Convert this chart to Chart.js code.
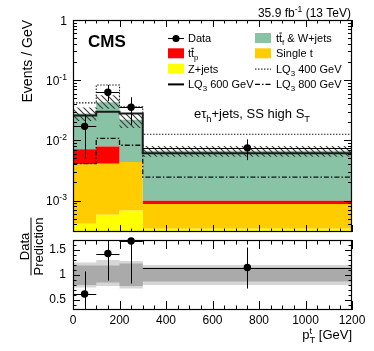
<!DOCTYPE html>
<html>
<head>
<meta charset="utf-8">
<script src="https://cdn.jsdelivr.net/npm/chart.js@4.4.1/dist/chart.umd.min.js"></script>
<style>
  html, body { margin: 0; padding: 0; background: #fff; }
  #wrap { position: relative; width: 374px; height: 351px; }
  #wrap canvas { position: absolute; left: 0; top: 0; }
</style>
</head>
<body>
<div id="wrap">
  <canvas id="mainChart" width="374" height="351"></canvas>
  <canvas id="ratioChart" width="374" height="351"></canvas>
</div>
<script>
var FONT = '"Liberation Sans", Arial, Helvetica, sans-serif';

// binning in p_T^t (GeV)
var binEdges = [0, 100, 200, 300, 1200];
var binCenters = [50, 150, 250, 750];

// backgrounds, events / GeV, stacked bottom to top
var zJets = [0.00041, 0.00058, 0.00068, 0.00034];
var singleTop = [0.0036, 0.0035, 0.0037, 0.00054];
var ttPrompt = [0.0031, 0.0038, 0.0, 0.00011];
var ttFakeWJets = [0.0209, 0.0352, 0.0176, 0.0057];

// LQ3 signals (not stacked)
var lq400 = [0.042, 0.083, 0.036, 0.0126];
var lq600 = [0.026, 0.030, 0.028, 0.0061];
var lq800 = [0.0041, 0.0108, 0.0083, 0.00245];

// data
var dataY = [0.0171, 0.063, 0.0355, 0.0075];
var dataHi = [0.027, 0.083, 0.052, 0.0104];
var dataLo = [0.0050, 0.045, 0.018, 0.0047];

// ratio panel
var ratioY = [0.62, 1.43, 1.68, 1.15];
var ratioHi = [1.07, 1.95, 2.3, 1.55];
var ratioLo = [0.2, 0.89, 0.83, 0.73];
var uncOuterHi = [1.25, 1.30, 1.28, 1.20];
var uncOuterLo = [0.75, 0.78, 0.73, 0.80];
var uncInnerHi = [1.19, 1.19, 1.23, 1.15];
var uncInnerLo = [0.80, 0.85, 0.78, 0.87];

// ticks
var xTickLabels = [0, 200, 400, 600, 800, 1000, 1200];
var yDecades = [0.001, 0.01, 0.1, 1];
var ratioTickLabels = [0.5, 1, 1.5];

var colGreen = '#88c3a6';
var colOrange = '#ffcc00';
var colRed = '#ff0000';
var colYellow = '#ffff00';

// histogram -> stepped points
function steps(vals) {
    var pts = vals.map(function (v, i) { return { x: binEdges[i], y: v }; });
    pts.push({ x: binEdges[binEdges.length - 1], y: vals[vals.length - 1] });
    return pts;
}

function cumulate(layers) {
    var run = [0, 0, 0, 0];
    return layers.map(function (l) {
        run = run.map(function (v, i) { return v + l[i]; });
        return run.slice();
    });
}

var stack = cumulate([zJets, singleTop, ttPrompt, ttFakeWJets]);
var total = stack[3];
var totHi = total.map(function (v, i) { return v * uncOuterHi[i]; });
var totLo = total.map(function (v, i) { return v * uncOuterLo[i]; });

// hatch pattern for the uncertainty band
function hatch() {
    var s = 6;
    var c = document.createElement('canvas');
    c.width = s; c.height = s;
    var g = c.getContext('2d');
    g.strokeStyle = '#3a3a3a';
    g.lineWidth = 1.1;
    g.beginPath();
    g.moveTo(0, 0); g.lineTo(s, s);
    g.moveTo(-1, s - 1); g.lineTo(1, s + 1);
    g.moveTo(s - 1, -1); g.lineTo(s + 1, 1);
    g.stroke();
    return g.createPattern(c, 'repeat');
}

// text with sub/superscripts
function drawRich(ctx, parts, x, y, size, align, weight) {
    var w0 = weight ? weight + ' ' : '';
    var items = parts.map(function (p) {
        var s = (p.sub || p.sup) ? size * 0.72 : size;
        ctx.font = w0 + s + 'px ' + FONT;
        var w = ctx.measureText(p.t).width;
        if (p.up) w = Math.max(w, ctx.measureText(p.up).width);
        return { p: p, s: s, w: w };
    });
    var tot = items.reduce(function (a, b) { return a + b.w; }, 0);
    var cx = align === 'right' ? x - tot : align === 'center' ? x - tot / 2 : x;
    ctx.textAlign = 'left';
    ctx.textBaseline = 'alphabetic';
    items.forEach(function (it) {
        var p = it.p;
        ctx.font = w0 + it.s + 'px ' + FONT;
        var dy = p.sub ? size * 0.28 : p.sup ? -size * 0.42 : 0;
        ctx.fillText(p.t, cx, y + dy);
        if (p.up) ctx.fillText(p.up, cx, y - size * 0.42);
        if (p.bar) ctx.fillRect(cx + 0.3, y - size * 0.86, it.w - 0.6, 1);
        cx += it.w;
    });
    return tot;
}

// frame with inward ticks on four sides
function makeFrame(cfg) {
    return {
        id: 'frame',
        afterDraw: function (chart) {
            var ctx = chart.ctx, a = chart.chartArea;
            var xs = chart.scales.x, ys = chart.scales.y;
            ctx.save();
            ctx.strokeStyle = '#000';
            ctx.lineWidth = 1;
            ctx.beginPath();
            for (var v = 0; v <= 1200; v += 50) {
                var px = Math.round(xs.getPixelForValue(v)) + 0.5;
                var len = v % 200 === 0 ? cfg.xMajor : cfg.xMinor;
                ctx.moveTo(px, a.bottom); ctx.lineTo(px, a.bottom - len);
                ctx.moveTo(px, a.top); ctx.lineTo(px, a.top + len);
            }
            cfg.yTicks.forEach(function (t) {
                var py = Math.round(ys.getPixelForValue(t.v)) + 0.5;
                if (py < a.top || py > a.bottom) return;
                ctx.moveTo(a.left, py); ctx.lineTo(a.left + t.len, py);
                ctx.moveTo(a.right, py); ctx.lineTo(a.right - t.len, py);
            });
            ctx.stroke();
            ctx.lineWidth = 1.2;
            ctx.strokeRect(a.left + 0.5, a.top + 0.5, a.right - a.left - 1, a.bottom - a.top - 1);
            ctx.restore();
        }
    };
}

// error bars for data points
function makeErrors(yv, hi, lo) {
    return {
        id: 'errs',
        afterDatasetsDraw: function (chart) {
            var ctx = chart.ctx, a = chart.chartArea;
            var xs = chart.scales.x, ys = chart.scales.y;
            ctx.save();
            ctx.beginPath();
            ctx.rect(a.left, a.top, a.right - a.left, a.bottom - a.top);
            ctx.clip();
            ctx.strokeStyle = '#000';
            ctx.lineWidth = 1;
            ctx.beginPath();
            binCenters.forEach(function (c, i) {
                var px = Math.round(xs.getPixelForValue(c)) + 0.5;
                var py = Math.round(ys.getPixelForValue(yv[i])) + 0.5;
                ctx.moveTo(px, ys.getPixelForValue(hi[i]));
                ctx.lineTo(px, ys.getPixelForValue(lo[i]));
                ctx.moveTo(xs.getPixelForValue(binEdges[i]), py);
                ctx.lineTo(xs.getPixelForValue(binEdges[i + 1]), py);
            });
            ctx.stroke();
            ctx.restore();
        }
    };
}

var logTicks = [];
yDecades.concat([0.0001]).forEach(function (d) {
    for (var k = 1; k <= 9; k++) logTicks.push({ v: k * d, len: k === 1 ? 8 : 4 });
});
var ratioMinor = [];
for (var r = 3; r <= 17; r++) ratioMinor.push({ v: r / 10, len: r % 5 === 0 ? 7 : 3.5 });

var mainText = {
    id: 'mainText',
    afterDraw: function (chart) {
        var ctx = chart.ctx, ys = chart.scales.y;
        ctx.save();
        ctx.fillStyle = '#000';
        // y tick labels
        yDecades.forEach(function (d) {
            var py = ys.getPixelForValue(d) + 4.5;
            var e = Math.round(Math.log10(d));
            if (e === 0) drawRich(ctx, [{ t: '1' }], 67, py, 12, 'right');
            else drawRich(ctx, [{ t: '10' }, { t: '-' + (-e), sup: true }], 67, py, 12, 'right');
        });
        // y title
        ctx.save();
        ctx.translate(28, 20);
        ctx.rotate(-Math.PI / 2);
        ctx.font = '14px ' + FONT;
        ctx.textAlign = 'right';
        ctx.textBaseline = 'middle';
        ctx.fillText('Events / GeV', 0, 0);
        ctx.restore();
        // CMS + lumi
        drawRich(ctx, [{ t: 'CMS' }], 88, 47, 17, 'left', 'bold');
        drawRich(ctx, [{ t: '35.9 fb' }, { t: '-1', sup: true }, { t: ' (13 TeV)' }], 351, 17, 12, 'right');
        // channel label
        drawRich(ctx, [{ t: 'e\u03c4' }, { t: 'h', sub: true }, { t: '+jets, SS high S' }, { t: 'T', sub: true }], 252, 118, 13, 'center');

        // legend
        var rows = [38, 53.3, 68.6, 83.9];
        var c1 = 168, c2 = 255, t1 = 188, t2 = 276, fs = 11;
        function box(x, y, col) { ctx.fillStyle = col; ctx.fillRect(x, y - 5, 16, 10); ctx.fillStyle = '#000'; }
        function seg(x, y, dash, lw) {
            ctx.save(); ctx.strokeStyle = '#000'; ctx.lineWidth = lw; ctx.setLineDash(dash);
            ctx.beginPath(); ctx.moveTo(x, y + 0.5); ctx.lineTo(x + 16, y + 0.5); ctx.stroke(); ctx.restore();
        }
        // data
        seg(c1, rows[0], [], 1);
        ctx.beginPath(); ctx.arc(c1 + 8, rows[0] + 0.5, 3.6, 0, Math.PI * 2); ctx.fill();
        drawRich(ctx, [{ t: 'Data' }], t1, rows[0] + 4, fs, 'left');
        box(c1, rows[1], colRed);
        drawRich(ctx, [{ t: 't' }, { t: 't', bar: true }, { t: 'p', sub: true }], t1, rows[1] + 4, fs, 'left');
        box(c1, rows[2], colYellow);
        drawRich(ctx, [{ t: 'Z+jets' }], t1, rows[2] + 4, fs, 'left');
        seg(c1, rows[3], [], 2);
        drawRich(ctx, [{ t: 'LQ' }, { t: '3', sub: true }, { t: ' 600 GeV' }], t1, rows[3] + 4, fs, 'left');
        box(c2, rows[0], colGreen);
        drawRich(ctx, [{ t: 't' }, { t: 't', bar: true }, { t: 'f', sub: true }, { t: ' & W+jets' }], t2, rows[0] + 4, fs, 'left');
        box(c2, rows[1], colOrange);
        drawRich(ctx, [{ t: 'Single t' }], t2, rows[1] + 4, fs, 'left');
        seg(c2, rows[2], [1.5, 1.5], 1);
        drawRich(ctx, [{ t: 'LQ' }, { t: '3', sub: true }, { t: ' 400 GeV' }], t2, rows[2] + 4, fs, 'left');
        seg(c2, rows[3], [5, 2, 1.5, 2], 1.3);
        drawRich(ctx, [{ t: 'LQ' }, { t: '3', sub: true }, { t: ' 800 GeV' }], t2, rows[3] + 4, fs, 'left');
        ctx.restore();
    }
};

var ratioText = {
    id: 'ratioText',
    afterDraw: function (chart) {
        var ctx = chart.ctx;
        ctx.save();
        ctx.fillStyle = '#000';
        ctx.translate(31, 246.5);
        ctx.rotate(-Math.PI / 2);
        ctx.font = '13px ' + FONT;
        ctx.textAlign = 'center';
        ctx.textBaseline = 'alphabetic';
        ctx.fillText('Data', 0, -2.5);
        var w = ctx.measureText('Prediction').width;
        ctx.fillRect(-w / 2, -0.5, w, 1);
        ctx.textBaseline = 'top';
        ctx.fillText('Prediction', 0, 1.5);
        ctx.restore();
        ctx.save();
        ctx.fillStyle = '#000';
        drawRich(ctx, [{ t: 'p' }, { t: 'T', sub: true, up: 't' }, { t: ' [GeV]' }], 352, 339, 13, 'right');
        ctx.restore();
    }
};

function histLine(vals, extra) {
    var ds = {
        data: steps(vals), stepped: true, pointRadius: 0, borderWidth: 0,
        borderColor: 'rgba(0,0,0,0)', backgroundColor: 'rgba(0,0,0,0)', fill: false, tension: 0
    };
    for (var k in extra) ds[k] = extra[k];
    return ds;
}

Chart.defaults.font.family = FONT;

new Chart(document.getElementById('mainChart'), {
    type: 'line',
    data: {
        datasets: [
            {
                data: binCenters.map(function (c, i) { return { x: c, y: dataY[i] }; }),
                showLine: false, pointRadius: 3.7, pointBorderWidth: 0,
                pointBackgroundColor: '#000', order: 0
            },
            histLine(lq400, { borderColor: '#222', borderWidth: 1.1, borderDash: [1.5, 1.5], order: 1 }),
            histLine(lq600, { borderColor: '#1a1a1a', borderWidth: 2, order: 1 }),
            histLine(lq800, { borderColor: '#111', borderWidth: 1.3, borderDash: [5, 2, 1.5, 2], order: 1 }),
            histLine(totHi, { order: 2 }),
            histLine(totLo, { order: 2, fill: '-1', backgroundColor: hatch() }),
            histLine(stack[0], { order: 3, fill: 'start', backgroundColor: colYellow }),
            histLine(stack[1], { order: 3, fill: '-1', backgroundColor: colOrange }),
            histLine(stack[2], { order: 3, fill: '-1', backgroundColor: colRed }),
            histLine(stack[3], { order: 3, fill: '-1', backgroundColor: colGreen })
        ]
    },
    options: {
        responsive: false, animation: false, devicePixelRatio: 1, events: [],
        layout: { padding: { left: 73, top: 20, right: 22, bottom: 119 } },
        plugins: { legend: { display: false }, tooltip: { enabled: false } },
        scales: {
            x: { type: 'linear', min: 0, max: 1200, display: false },
            y: { type: 'logarithmic', min: 0.000335, max: 1, display: false }
        }
    },
    plugins: [makeErrors(dataY, dataHi, dataLo), makeFrame({ xMajor: 7, xMinor: 3.5, yTicks: logTicks }), mainText]
});

new Chart(document.getElementById('ratioChart'), {
    type: 'line',
    data: {
        datasets: [
            {
                data: binCenters.map(function (c, i) { return { x: c, y: ratioY[i] }; }),
                showLine: false, pointRadius: 3.7, pointBorderWidth: 0,
                pointBackgroundColor: '#000', order: 0, clip: false
            },
            histLine(uncInnerHi, { order: 1 }),
            histLine(uncInnerLo, { order: 1, fill: '-1', backgroundColor: '#aaaaaa' }),
            histLine(uncOuterHi, { order: 2 }),
            histLine(uncOuterLo, { order: 2, fill: '-1', backgroundColor: '#d6d6d6' })
        ]
    },
    options: {
        responsive: false, animation: false, devicePixelRatio: 1, events: [],
        layout: { padding: { left: 0, top: 240, right: 22, bottom: 0 } },
        plugins: { legend: { display: false }, tooltip: { enabled: false } },
        scales: {
            x: {
                type: 'linear', min: 0, max: 1200,
                grid: { display: false, drawTicks: false }, border: { display: false },
                afterBuildTicks: function (s) { s.ticks = xTickLabels.map(function (v) { return { value: v }; }); },
                ticks: {
                    autoSkip: false, maxRotation: 0, padding: 3, color: '#000',
                    font: { size: 12 }, callback: function (v) { return String(v); }
                },
                afterFit: function (s) { s.height = 41; }
            },
            y: {
                type: 'linear', min: 0.3, max: 1.7,
                grid: { display: false, drawTicks: false }, border: { display: false },
                afterBuildTicks: function (s) { s.ticks = ratioTickLabels.map(function (v) { return { value: v }; }); },
                ticks: { padding: 7, color: '#000', font: { size: 12 }, callback: function (v) { return String(v); } },
                afterFit: function (s) { s.width = 73; }
            }
        }
    },
    plugins: [makeErrors(ratioY, ratioHi, ratioLo), makeFrame({ xMajor: 9, xMinor: 4.5, yTicks: ratioMinor }), ratioText]
});
</script>
</body>
</html>
